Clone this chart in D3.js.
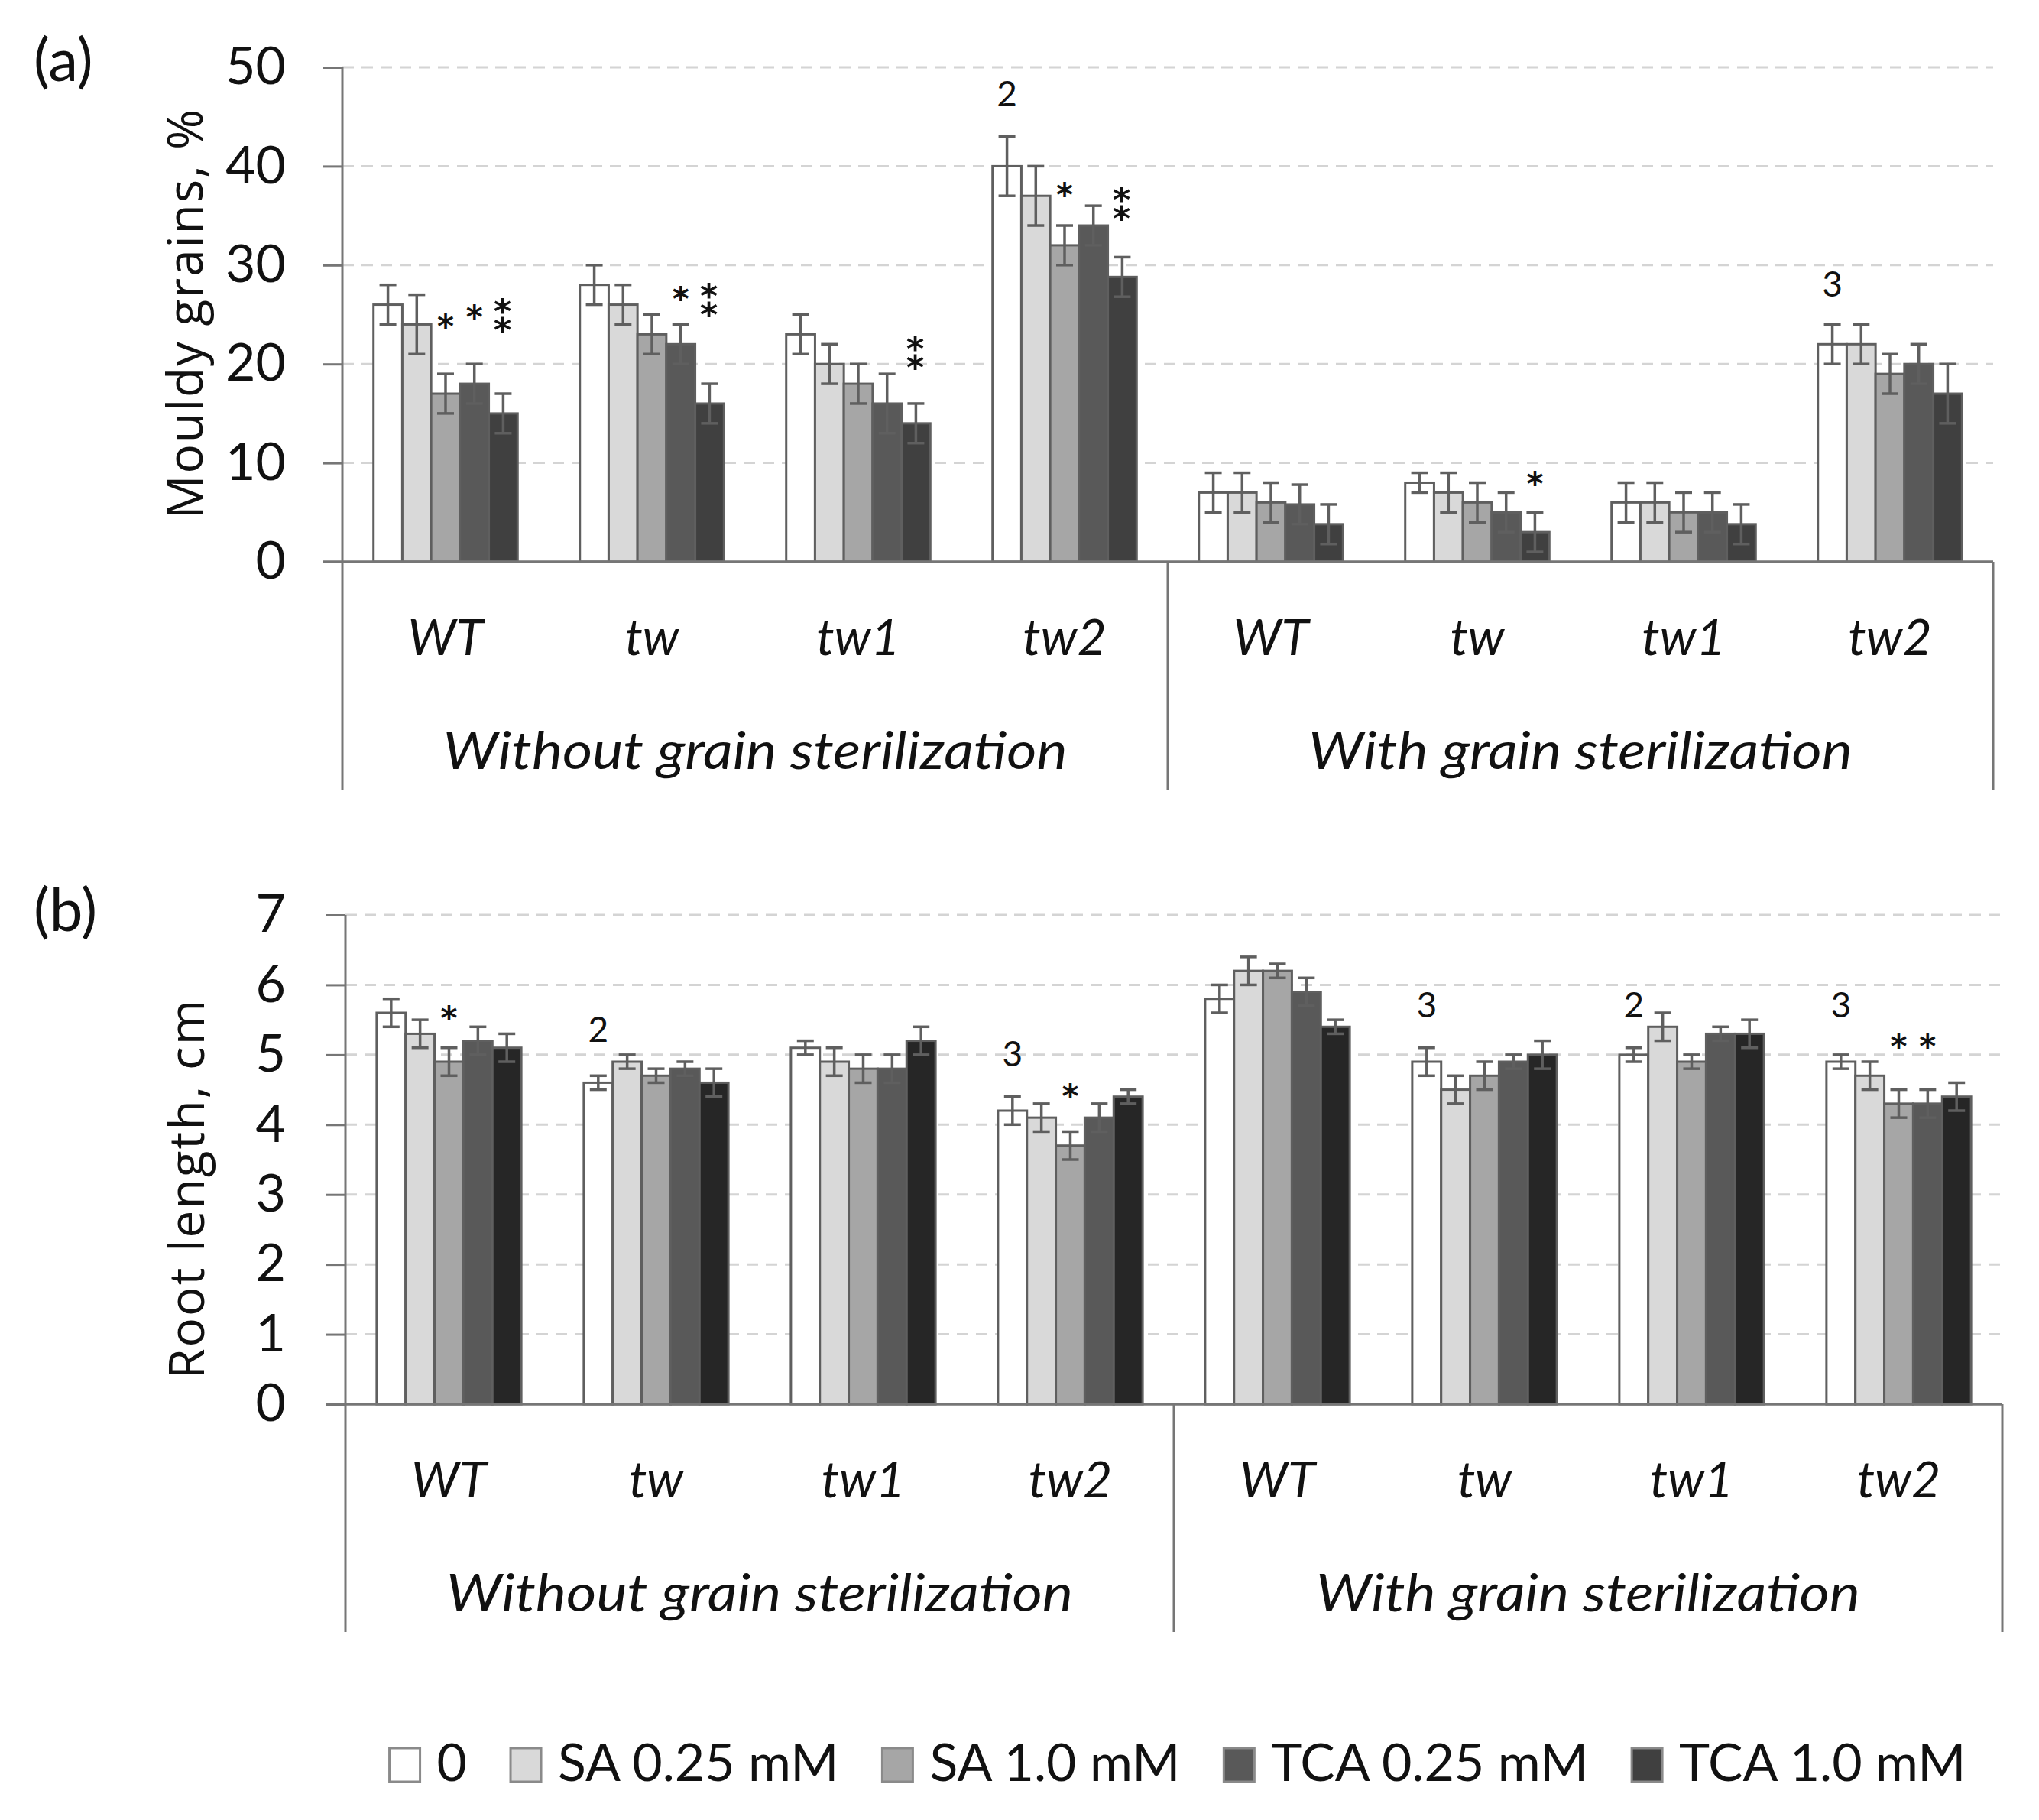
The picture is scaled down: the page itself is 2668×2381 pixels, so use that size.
<!DOCTYPE html>
<html>
<head>
<meta charset="utf-8">
<script src="https://cdn.jsdelivr.net/npm/d3@7"></script>
<style>
	body { margin: 0; background: #fff; }
</style>
</head>
<body>
<div id="chart"></div>
<script>
const width = 2668;
const height = 2381;

// categories
const genotypes = ['WT', 'tw', 'tw1', 'tw2'];
const conditions = ['Without grain sterilization', 'With grain sterilization'];
const treatments = ['0', 'SA 0.25 mM', 'SA 1.0 mM', 'TCA 0.25 mM', 'TCA 1.0 mM'];

// (a) mouldy grains, % -- rows: without WT, tw, tw1, tw2, then with WT, tw, tw1, tw2
const mouldyMean = [
	[26, 24, 17, 18, 15],
	[28, 26, 23, 22, 16],
	[23, 20, 18, 16, 14],
	[40, 37, 32, 34, 28.8],
	[7, 7, 6, 5.8, 3.8],
	[8, 7, 6, 5, 3],
	[6, 6, 5, 5, 3.8],
	[22, 22, 19, 20, 17],
];
const mouldyErr = [
	[2, 3, 2, 2, 2],
	[2, 2, 2, 2, 2],
	[2, 2, 2, 3, 2],
	[3, 3, 2, 2, 2],
	[2, 2, 2, 2, 2],
	[1, 2, 2, 2, 2],
	[2, 2, 2, 2, 2],
	[2, 2, 2, 2, 3],
];

// (b) root length, cm
const rootMean = [
	[5.6, 5.3, 4.9, 5.2, 5.1],
	[4.6, 4.9, 4.7, 4.8, 4.6],
	[5.1, 4.9, 4.8, 4.8, 5.2],
	[4.2, 4.1, 3.7, 4.1, 4.4],
	[5.8, 6.2, 6.2, 5.9, 5.4],
	[4.9, 4.5, 4.7, 4.9, 5.0],
	[5.0, 5.4, 4.9, 5.3, 5.3],
	[4.9, 4.7, 4.3, 4.3, 4.4],
];
const rootErr = [
	[0.2, 0.2, 0.2, 0.2, 0.2],
	[0.1, 0.1, 0.1, 0.1, 0.2],
	[0.1, 0.2, 0.2, 0.2, 0.2],
	[0.2, 0.2, 0.2, 0.2, 0.1],
	[0.2, 0.2, 0.1, 0.2, 0.1],
	[0.2, 0.2, 0.2, 0.1, 0.2],
	[0.1, 0.2, 0.1, 0.1, 0.2],
	[0.1, 0.2, 0.2, 0.2, 0.2],
];

// tick labels
const mouldyTicks = [0, 10, 20, 30, 40, 50];
const rootTicks = [0, 1, 2, 3, 4, 5, 6, 7];

// significance marks: category index, bar index, text, level of its centre (axis units)
// '⁑' is the pair of asterisks stacked one above the other
const mouldyMarks = [
	{ cat: 0, bar: 2, text: '*', level: 24.6 },
	{ cat: 0, bar: 3, text: '*', level: 25.5 },
	{ cat: 0, bar: 4, text: '⁑', level: 24.85 },
	{ cat: 1, bar: 3, text: '*', level: 27.4 },
	{ cat: 1, bar: 4, text: '⁑', level: 26.35 },
	{ cat: 2, bar: 4, text: '⁑', level: 21.0 },
	{ cat: 3, bar: 0, text: '2', level: 47.3 },
	{ cat: 3, bar: 2, text: '*', level: 37.9 },
	{ cat: 3, bar: 4, text: '⁑', level: 36.1 },
	{ cat: 5, bar: 4, text: '*', level: 8.7 },
	{ cat: 7, bar: 0, text: '3', level: 28.1 },
];
const rootMarks = [
	{ cat: 0, bar: 2, text: '*', level: 5.63 },
	{ cat: 1, bar: 0, text: '2', level: 5.37 },
	{ cat: 3, bar: 0, text: '3', level: 5.02 },
	{ cat: 3, bar: 2, text: '*', level: 4.52 },
	{ cat: 5, bar: 0, text: '3', level: 5.72 },
	{ cat: 6, bar: 0, text: '2', level: 5.72 },
	{ cat: 7, bar: 0, text: '3', level: 5.72 },
	{ cat: 7, bar: 2, text: '*', level: 5.23 },
	{ cat: 7, bar: 3, text: '*', level: 5.23 },
];

const lineGray = '#767676';
const barStroke = '#5f5f5f';
const fontMain = 'Lato, "Open Sans", sans-serif';
const fontTitle = '"Open Sans", "Noto Sans", sans-serif';
const fontStar = '"DejaVu Sans", sans-serif';

const svg = d3.select('#chart').append('svg').attr('width', width).attr('height', height);
svg.append('rect').attr('width', width).attr('height', height).attr('fill', '#fff');

const categories = d3.range(conditions.length * genotypes.length);

function markStyle(t) {
	if (t === '⁑') return { font: fontStar, size: 56, weight: 'bold', dy: '0.36em' };
	if (t === '*') return { font: fontStar, size: 42, weight: 'bold', dy: '0.6em' };
	return { font: fontMain, size: 46, weight: 'normal', dy: '0.36em' };
}

function drawPanel(opt) {
	const g = svg.append('g');
	const y = d3.scaleLinear().domain([0, opt.yMax]).range([opt.bottom, opt.top]);
	const x0 = d3.scaleBand().domain(categories).range([opt.left, opt.right]);
	const x1 = d3.scaleBand().domain(d3.range(treatments.length)).range([0, x0.bandwidth()]).paddingOuter(1.08);
	const fills = ['#ffffff', '#d9d9d9', '#a6a6a6', '#595959', opt.lastColor];

	// gridlines
	g.append('g')
		.selectAll('line')
		.data(opt.ticks.filter((t) => t > 0))
		.join('line')
		.attr('x1', opt.left)
		.attr('x2', opt.right)
		.attr('y1', (d) => y(d))
		.attr('y2', (d) => y(d))
		.attr('stroke', '#d4d4d4')
		.attr('stroke-width', 3)
		.attr('stroke-dasharray', '15,10');

	// y axis ticks and labels
	const axis = g
		.append('g')
		.attr('transform', `translate(${opt.left},0)`)
		.call(
			d3
				.axisLeft(y)
				.tickValues(opt.ticks)
				.tickFormat(d3.format('d'))
				.tickSize(26)
				.tickSizeOuter(0)
				.tickPadding(opt.tickPad)
		);
	axis.select('.domain').remove();
	axis.selectAll('.tick line').attr('stroke', lineGray).attr('stroke-width', 3);
	axis.selectAll('.tick text')
		.attr('fill', '#111')
		.style('font-family', fontMain)
		.style('font-size', '68px');

	// bars
	const groups = g
		.append('g')
		.selectAll('g')
		.data(opt.means)
		.join('g')
		.attr('transform', (d, i) => `translate(${x0(i)},0)`);

	groups
		.selectAll('rect')
		.data((d, i) => d.map((v, j) => ({ v: v, e: opt.errs[i][j], j: j })))
		.join('rect')
		.attr('x', (d) => x1(d.j))
		.attr('y', (d) => y(d.v))
		.attr('width', x1.bandwidth())
		.attr('height', (d) => y(0) - y(d.v))
		.attr('fill', (d) => fills[d.j])
		.attr('stroke', barStroke)
		.attr('stroke-width', 3);

	// error bars
	const err = groups
		.selectAll('g.err')
		.data((d, i) => d.map((v, j) => ({ v: v, e: opt.errs[i][j], j: j })))
		.join('g')
		.attr('class', 'err')
		.attr('stroke', barStroke)
		.attr('stroke-width', 3.5);
	const cx = (d) => x1(d.j) + x1.bandwidth() / 2;
	err.append('line')
		.attr('x1', cx)
		.attr('x2', cx)
		.attr('y1', (d) => y(d.v - d.e))
		.attr('y2', (d) => y(d.v + d.e));
	err.append('line')
		.attr('x1', (d) => cx(d) - 11)
		.attr('x2', (d) => cx(d) + 11)
		.attr('y1', (d) => y(d.v + d.e))
		.attr('y2', (d) => y(d.v + d.e));
	err.append('line')
		.attr('x1', (d) => cx(d) - 11)
		.attr('x2', (d) => cx(d) + 11)
		.attr('y1', (d) => y(d.v - d.e))
		.attr('y2', (d) => y(d.v - d.e));

	// axis lines and category boxes
	const boxBottom = opt.bottom + 298;
	const mid = (opt.left + opt.right) / 2;
	g.append('line')
		.attr('x1', opt.left - 26)
		.attr('x2', opt.right)
		.attr('y1', y(0))
		.attr('y2', y(0))
		.attr('stroke', lineGray)
		.attr('stroke-width', 3.5);
	g.append('g')
		.selectAll('line')
		.data([opt.left, mid, opt.right])
		.join('line')
		.attr('x1', (d) => d)
		.attr('x2', (d) => d)
		.attr('y1', (d, i) => (i === 0 ? y(opt.yMax) : y(0)))
		.attr('y2', boxBottom)
		.attr('stroke', lineGray)
		.attr('stroke-width', 3);

	// genotype labels
	g.append('g')
		.selectAll('text')
		.data(categories)
		.join('text')
		.attr('x', (d) => x0(d) + x0.bandwidth() / 2)
		.attr('y', opt.bottom + 122)
		.attr('text-anchor', 'middle')
		.style('font-family', fontMain)
		.style('font-style', 'italic')
		.style('font-size', '66px')
		.attr('fill', '#111')
		.text((d) => genotypes[d % genotypes.length]);

	// condition labels
	g.append('g')
		.selectAll('text')
		.data(conditions)
		.join('text')
		.attr('x', (d, i) => (i === 0 ? (opt.left + mid) / 2 : (mid + opt.right) / 2))
		.attr('y', opt.bottom + 271)
		.attr('text-anchor', 'middle')
		.attr('textLength', (d, i) => opt.condWidths[i])
		.attr('lengthAdjust', 'spacingAndGlyphs')
		.style('font-family', fontMain)
		.style('font-style', 'italic')
		.style('font-size', '68px')
		.attr('fill', '#111')
		.text((d) => d);

	// significance marks
	g.append('g')
		.selectAll('text')
		.data(opt.marks)
		.join('text')
		.attr('x', (d) => x0(d.cat) + x1(d.bar) + x1.bandwidth() / 2)
		.attr('y', (d) => y(d.level))
		.attr('dy', (d) => markStyle(d.text).dy)
		.attr('text-anchor', 'middle')
		.style('font-family', (d) => markStyle(d.text).font)
		.style('font-weight', (d) => markStyle(d.text).weight)
		.style('font-size', (d) => markStyle(d.text).size + 'px')
		.attr('fill', '#111')
		.text((d) => d.text);

	// y title
	g.append('text')
		.attr('transform', `translate(${opt.titleX},${opt.titleY}) rotate(-90)`)
		.attr('text-anchor', 'middle')
		.attr('textLength', opt.titleWidth)
		.attr('lengthAdjust', 'spacing')
		.style('font-family', fontTitle)
		.style('font-size', '64px')
		.attr('fill', '#111')
		.text(opt.title);

	// panel tag
	g.append('text')
		.attr('x', 44)
		.attr('y', opt.tagY)
		.style('font-family', fontMain)
		.style('font-size', '78px')
		.attr('fill', '#111')
		.text(opt.tag);
}

drawPanel({
	means: mouldyMean,
	errs: mouldyErr,
	yMax: 50,
	ticks: mouldyTicks,
	top: 88,
	bottom: 735,
	left: 448,
	right: 2608,
	tickPad: 48,
	lastColor: '#404040',
	marks: mouldyMarks,
	condWidths: [817, 712],
	title: 'Mouldy grains, %',
	titleX: 265,
	titleY: 411,
	titleWidth: 536,
	tag: '(a)',
	tagY: 106,
});

drawPanel({
	means: rootMean,
	errs: rootErr,
	yMax: 7,
	ticks: rootTicks,
	top: 1197,
	bottom: 1837,
	left: 452,
	right: 2620,
	tickPad: 52,
	lastColor: '#262626',
	marks: rootMarks,
	condWidths: [820, 712],
	title: 'Root  length, cm',
	titleX: 267,
	titleY: 1556,
	titleWidth: 496,
	tag: '(b)',
	tagY: 1218,
});

// legend ================================================================
const legendColors = ['#ffffff', '#d9d9d9', '#a6a6a6', '#595959', '#404040'];
const legend = svg.append('g');
const items = legend
	.selectAll('g')
	.data(treatments)
	.join('g');
items.append('rect')
	.attr('width', 40)
	.attr('height', 44)
	.attr('y', 2287)
	.attr('fill', (d, i) => legendColors[i])
	.attr('stroke', '#8a8a8a')
	.attr('stroke-width', 3);
items.append('text')
	.attr('x', 62)
	.attr('y', 2330)
	.style('font-family', fontMain)
	.style('font-size', '68px')
	.attr('fill', '#111')
	.text((d) => d);

// lay items out one after another, centred under the plots
let cursor = 0;
const offsets = [];
items.each(function () {
	offsets.push(cursor);
	const w = d3.select(this).select('text').node().getComputedTextLength();
	cursor += 62 + w + 57;
});
const total = cursor - 57;
const start = 1541 - total / 2;
items.attr('transform', (d, i) => `translate(${start + offsets[i]},0)`);
</script>
</body>
</html>
